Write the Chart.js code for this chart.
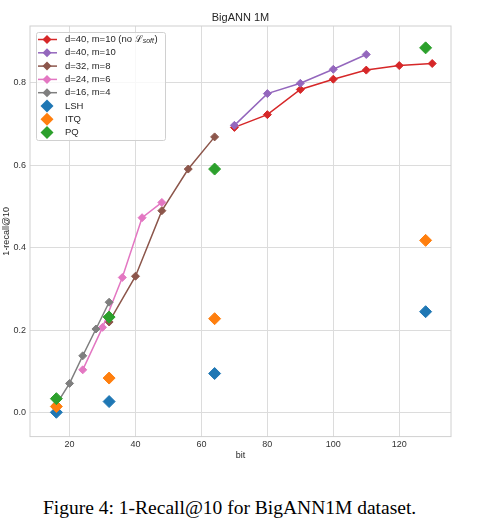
<!DOCTYPE html>
<html>
<head>
<meta charset="utf-8">
<script src="https://cdn.jsdelivr.net/npm/chart.js@4.4.0/dist/chart.umd.min.js"></script>
<style>
  html, body { margin: 0; padding: 0; background: #ffffff; }
  #wrap { position: relative; width: 477px; height: 461px; }
  #caption {
    position: absolute; left: 43px; top: 498px;
    font-family: 'Liberation Serif', 'Times New Roman', serif;
    font-size: 19.5px; line-height: 20px; color: #000; white-space: nowrap;
  }
</style>
</head>
<body>
<div id="wrap"><canvas id="recallChart"></canvas></div>
<div id="caption">Figure 4: 1-Recall@10 for BigANN1M dataset.</div>
<script>
// Datos
const bitsD40 = [70, 80, 90, 100, 110, 120, 130];
const recallD40NoSoft = [0.692, 0.723, 0.784, 0.809, 0.831, 0.842, 0.847];
const bitsD40Soft = [70, 80, 90, 100, 110];
const recallD40 = [0.697, 0.774, 0.799, 0.833, 0.869];
const bitsD32 = [32, 40, 48, 56, 64];
const recallD32 = [0.220, 0.331, 0.490, 0.591, 0.669];
const bitsD24 = [24, 30, 36, 42, 48];
const recallD24 = [0.104, 0.207, 0.328, 0.473, 0.510];
const bitsD16 = [16, 20, 24, 28, 32];
const recallD16 = [0.020, 0.071, 0.138, 0.203, 0.268];
const bitsBaseline = [16, 32, 64, 128];
const recallLSH = [0.001, 0.027, 0.095, 0.245];
const recallITQ = [0.015, 0.084, 0.228, 0.418];
const recallPQ = [0.034, 0.232, 0.591, 0.885];
const xTicks = [20, 40, 60, 80, 100, 120];
const yTicks = [0.0, 0.2, 0.4, 0.6, 0.8];

const toPoints = (xs, ys) => xs.map((x, i) => ({ x: x, y: ys[i] }));

Chart.defaults.font.family = "'Liberation Sans', Arial, sans-serif";
Chart.defaults.font.size = 9;
Chart.defaults.color = '#262626';

function lineSet(label, xs, ys, color, order) {
    return {
        label: label,
        data: toPoints(xs, ys),
        showLine: true,
        borderColor: color,
        backgroundColor: color,
        borderWidth: 1.5,
        pointStyle: 'rectRot',
        pointRadius: 4,
        pointBorderWidth: 1,
        pointBorderColor: color,
        pointBackgroundColor: color,
        order: order
    };
}

function markSet(label, xs, ys, color, order) {
    return {
        label: label,
        data: toPoints(xs, ys),
        showLine: false,
        borderColor: color,
        backgroundColor: color,
        pointStyle: 'rectRot',
        pointRadius: 6,
        pointBorderWidth: 1,
        pointBorderColor: color,
        pointBackgroundColor: color,
        order: order
    };
}

// Marco completo del área del gráfico (estilo whitegrid)
const frame = {
    id: 'frame',
    beforeDatasetsDraw(chart) {
        const { ctx, chartArea: a } = chart;
        ctx.save();
        ctx.strokeStyle = '#d0d0d0';
        ctx.lineWidth = 1;
        ctx.strokeRect(a.left, a.top, a.right - a.left, a.bottom - a.top);
        ctx.restore();
    }
};

// Leyenda dentro del área, arriba a la izquierda
const innerLegend = {
    id: 'innerLegend',
    afterDraw(chart) {
        const { ctx, chartArea: a } = chart;
        const x0 = a.left + 6, y0 = a.top + 6;
        const w = 129, h = 108, rowH = 13.3;
        const sets = chart.data.datasets;
        ctx.save();
        ctx.fillStyle = 'rgba(255,255,255,0.8)';
        ctx.strokeStyle = '#d0d0d0';
        ctx.lineWidth = 1;
        ctx.beginPath();
        ctx.roundRect(x0 + 0.5, y0 + 0.5, w, h, 2);
        ctx.fill();
        ctx.stroke();

        sets.forEach((ds, i) => {
            const cy = y0 + 7.5 + i * rowH;
            const cx = x0 + 11;
            ctx.fillStyle = ds.borderColor;
            ctx.strokeStyle = ds.borderColor;
            let r = 6.5;
            if (ds.showLine) {
                ctx.lineWidth = 1.5;
                ctx.beginPath();
                ctx.moveTo(x0 + 2, cy);
                ctx.lineTo(x0 + 21, cy);
                ctx.stroke();
                r = 4.5;
            }
            ctx.beginPath();
            ctx.moveTo(cx, cy - r);
            ctx.lineTo(cx + r, cy);
            ctx.lineTo(cx, cy + r);
            ctx.lineTo(cx - r, cy);
            ctx.closePath();
            ctx.fill();

            ctx.fillStyle = '#262626';
            ctx.textBaseline = 'middle';
            ctx.textAlign = 'left';
            let tx = x0 + 29;
            const font = "9.5px 'Liberation Sans', Arial, sans-serif";
            ctx.font = font;
            const parts = ds.label.split('_');
            if (parts.length === 2) {
                // subíndice "soft" en cursiva
                ctx.fillText(parts[0], tx, cy);
                tx += ctx.measureText(parts[0]).width;
                ctx.font = "italic 7px 'Liberation Sans', Arial, sans-serif";
                const sub = parts[1].replace(')', '');
                ctx.fillText(sub, tx, cy + 2);
                tx += ctx.measureText(sub).width + 0.5;
                ctx.font = font;
                ctx.fillText(')', tx, cy);
            } else {
                ctx.fillText(ds.label, tx, cy);
            }
        });
        ctx.restore();
    }
};

new Chart(document.getElementById('recallChart'), {
    type: 'scatter',
    data: {
        datasets: [
            lineSet('d=40, m=10 (no ℒ_soft)', bitsD40, recallD40NoSoft, '#d62728', 8),
            lineSet('d=40, m=10', bitsD40Soft, recallD40, '#9467bd', 7),
            lineSet('d=32, m=8', bitsD32, recallD32, '#8c564b', 6),
            lineSet('d=24, m=6', bitsD24, recallD24, '#e377c2', 5),
            lineSet('d=16, m=4', bitsD16, recallD16, '#7f7f7f', 4),
            markSet('LSH', bitsBaseline, recallLSH, '#1f77b4', 3),
            markSet('ITQ', bitsBaseline, recallITQ, '#ff7f0e', 2),
            markSet('PQ', bitsBaseline, recallPQ, '#2ca02c', 1)
        ]
    },
    options: {
        responsive: true,
        maintainAspectRatio: false,
        animation: false,
        layout: { padding: { top: 0, right: 26, bottom: 0, left: 0 } },
        plugins: {
            legend: { display: false },
            tooltip: { enabled: false },
            title: {
                display: true,
                text: 'BigANN 1M',
                fullSize: false,
                color: '#262626',
                font: { size: 11, weight: 'normal' },
                padding: { top: 11.4, bottom: 1.4 }
            }
        },
        scales: {
            x: {
                type: 'linear',
                min: 8,
                max: 135.7,
                afterFit: (s) => { s.height = 24.4; },
                afterBuildTicks: (s) => { s.ticks = xTicks.map(v => ({ value: v })); },
                grid: { color: '#dcdcdc', drawTicks: false },
                border: { display: false },
                ticks: { padding: 3, color: '#333333', maxRotation: 0 },
                title: { display: true, text: 'bit', color: '#262626', padding: { top: 0, bottom: 0 } }
            },
            y: {
                type: 'linear',
                min: -0.058,
                max: 0.938,
                afterFit: (s) => { s.width = 30; },
                afterBuildTicks: (s) => { s.ticks = yTicks.map(v => ({ value: v })); },
                grid: { color: '#dcdcdc', drawTicks: false },
                border: { display: false },
                ticks: { padding: 4, color: '#333333', callback: (v) => v.toFixed(1) },
                title: { display: true, text: '1-recall@10', color: '#262626', padding: { top: 1, bottom: 0 } }
            }
        }
    },
    plugins: [frame, innerLegend]
});
</script>
</body>
</html>
